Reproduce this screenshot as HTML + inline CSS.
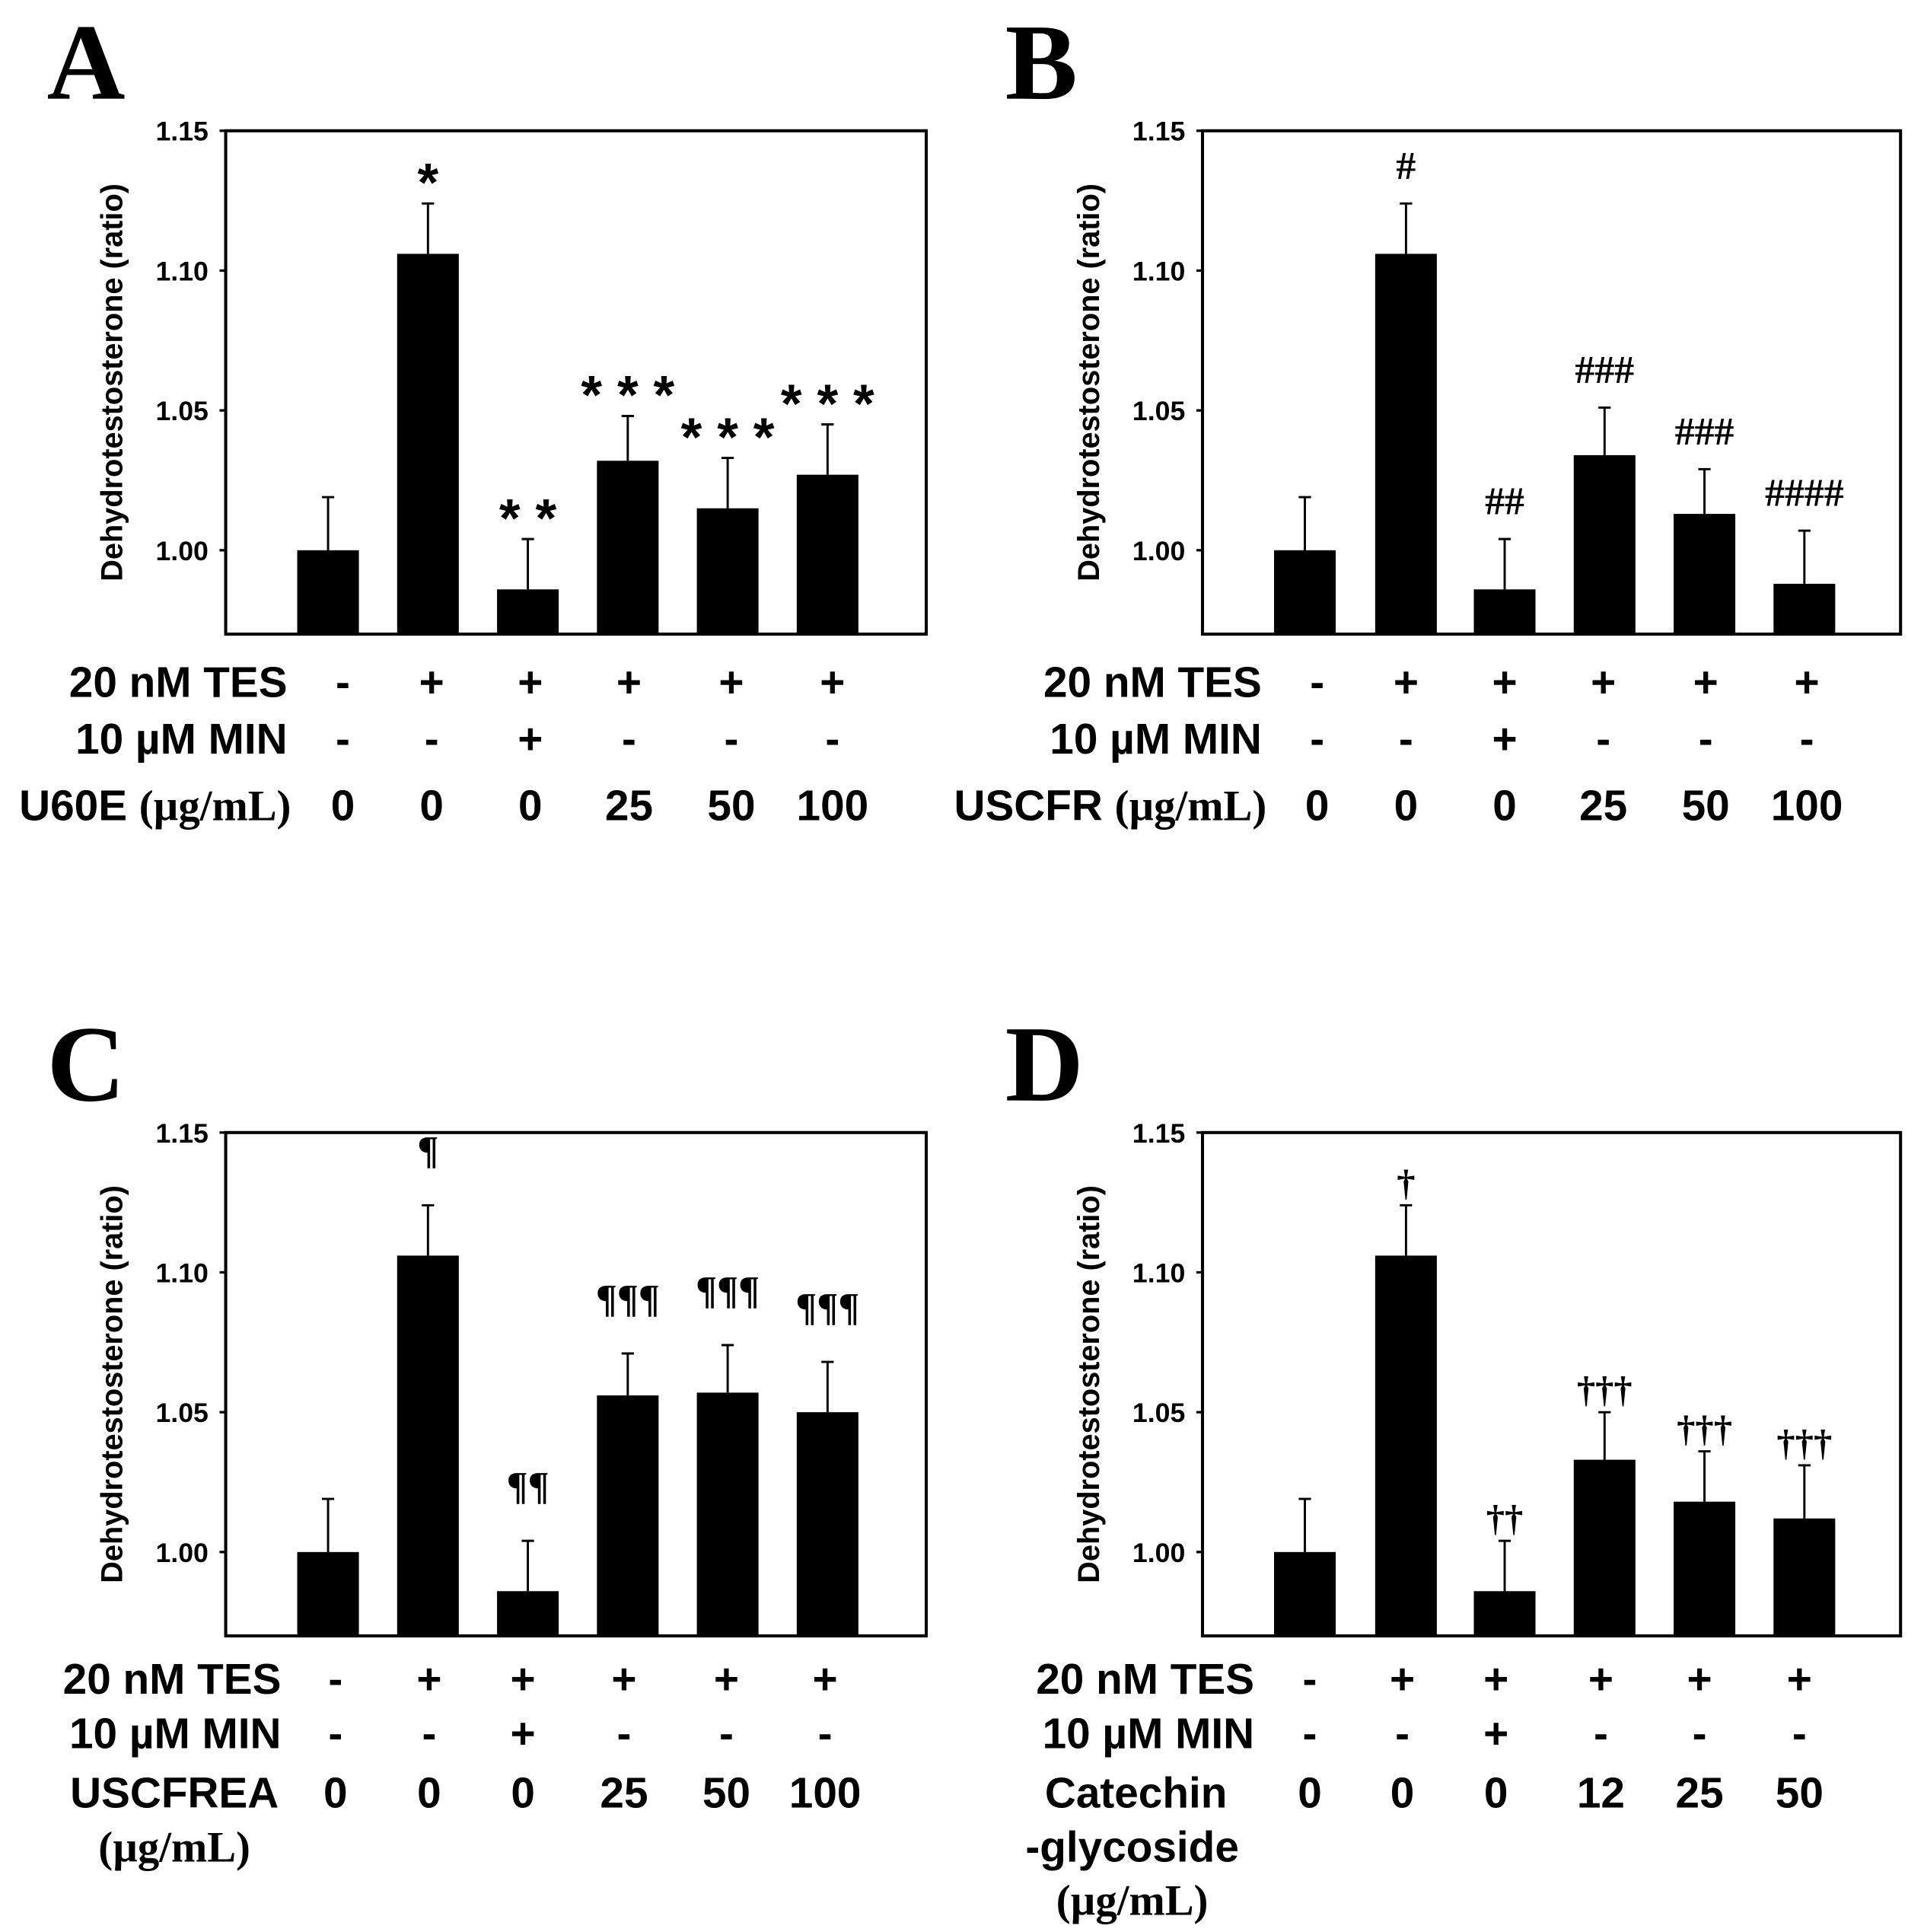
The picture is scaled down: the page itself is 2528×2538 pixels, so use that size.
<!DOCTYPE html>
<html><head><meta charset="utf-8"><style>
html,body{margin:0;padding:0;background:#fff;}
svg{display:block;}
.sans{font-family:"Liberation Sans",sans-serif;font-weight:bold;}
.serif{font-family:"Liberation Serif",serif;font-weight:bold;}
</style></head><body>
<svg id="fig" xmlns="http://www.w3.org/2000/svg" width="2528" height="2538" viewBox="0 0 1560 1566" preserveAspectRatio="none"></svg>
<script>
// ---- data ----
const valsA = [1.000, 1.106, 0.986, 1.032, 1.015, 1.027];
const errA  = [0.019, 0.018, 0.018, 0.016, 0.018, 0.018];
const markA = ["", "*", "* *", "* * *", "* * *", "* * *"];
const valsB = [1.000, 1.106, 0.986, 1.034, 1.013, 0.988];
const errB  = [0.019, 0.018, 0.018, 0.017, 0.016, 0.019];
const markB = ["", "#", "##", "###", "###", "####"];
const valsC = [1.000, 1.106, 0.986, 1.056, 1.057, 1.050];
const errC  = [0.019, 0.018, 0.018, 0.015, 0.017, 0.018];
const markC = ["", "¶", "¶¶", "¶¶¶", "¶¶¶", "¶¶¶"];
const valsD = [1.000, 1.106, 0.986, 1.033, 1.018, 1.012];
const errD  = [0.019, 0.018, 0.018, 0.017, 0.018, 0.019];
const markD = ["", "†", "††", "†††", "†††", "†††"];
const yTicks = [1.00, 1.05, 1.10, 1.15];
const tesRow = ["-", "+", "+", "+", "+", "+"];
const minRow = ["-", "-", "+", "-", "-", "-"];
const doseABC = ["0", "0", "0", "25", "50", "100"];
const doseD = ["0", "0", "0", "12", "25", "50"];

const NS = "http://www.w3.org/2000/svg";
const svg = document.getElementById("fig");
function mk(tag, attrs, parent){
  const e = document.createElementNS(NS, tag);
  for (const k in attrs) e.setAttribute(k, attrs[k]);
  (parent || svg).appendChild(e);
  return e;
}
function txt(s, attrs, parent){ const t = mk("text", attrs, parent); t.textContent = s; return t; }
const FS = 35;

function panel(o){
  const g = mk("g", {});
  
  
  const L=o.left, R=o.right, T=o.top, B=o.bottom;
  const ymin = 0.970, ymax = 1.15;
  const y = v => B - (v - ymin) / (ymax - ymin) * (B - T);
  const L_ = txt(o.id, {x:o.letterX, y:T-26, "font-size":88, class:"serif"}, g);
  
  
  yTicks.forEach(t => {
    const tl = txt(t.toFixed(2), {x:L-14, y:y(t)+8, "font-size":22, "text-anchor":"end", class:"sans"}, g);
    
    
    mk("line", {x1:L-5, x2:L, y1:y(t), y2:y(t), stroke:"#000", "stroke-width":2}, g);
  });
  const yt = txt("Dehydrotestosterone (ratio)", {x:0, y:0, "font-size":24.5, "text-anchor":"middle", class:"sans", transform:`translate(${L-84},${(T+B)/2}) rotate(-90)`}, g);
  
  
  o.vals.forEach((v, i) => {
    const cx = o.bx[i];
    const r = mk("rect", {x:cx-25, y:y(v), width:50, height:B-y(v), fill:"#000"}, g);
    
    
    const et = y(v + o.err[i]);
    const el = mk("path", {d:`M${cx},${y(v)} V${et} M${cx-5},${et} H${cx+5}`, stroke:"#000", "stroke-width":1.8, fill:"none"}, g);
    
    
    if (o.marks[i]) {
      const s = o.marks[i];
      let off, fs, cls;
      if (s.indexOf("*") >= 0) { off = 2; fs = 44; cls = "sans"; }
      else if (s.indexOf("#") >= 0) { off = 20; fs = 32; cls = "serif"; }
      else if (s.indexOf("¶") >= 0) { off = 34; fs = 32; cls = "serif"; }
      else { off = 8; fs = 30; cls = "serif"; }
      const m = txt(s, {x:cx, y: et - off, "font-size": fs, "text-anchor":"middle", class: cls}, g);
      if (cls === "sans") m.setAttribute("font-weight", "normal");
      
      
    }
  });
  const box = mk("rect", {x:L, y:T, width:R-L, height:B-T, fill:"none", stroke:"#000", "stroke-width":2.5}, g);
  
  
  const rows = [["20 nM TES", tesRow, o.rowY[0]], ["10 µM MIN", minRow, o.rowY[1]]];
  rows.forEach(rw => {
    const lb = txt(rw[0], {x:o.labelR, y:rw[2]+12, "font-size":FS, "text-anchor":"end", class:"sans"}, g);
    
    
    rw[1].forEach((s, i) => {
      const c = txt(s, {x:o.cx[i], y:rw[2]+12, "font-size":FS, "text-anchor":"middle", class:"sans"}, g);
      
      
    });
  });
  o.doseLabel(g);
  o.dose.forEach((s, i) => {
    const c = txt(s, {x:o.cx[i], y:o.rowY[2]+12, "font-size":FS, "text-anchor":"middle", class:"sans"}, g);
    
    
  });
}
function doseText(g, x, yy, name, anchor){
  const t = txt("", {x:x, y:yy, "font-size":FS, "text-anchor":anchor||"end"}, g);
  
  
  if (name) { const a = mk("tspan", {class:"sans"}, t); a.textContent = name; }
  const b = mk("tspan", {class:"serif"}, t); b.textContent = "(µg/mL)";
}
const bxL = [266, 347, 428, 509, 590, 671];
const bxR = [1058, 1140, 1220, 1301, 1382, 1463];
panel({id:"A", left:183, right:751, top:106, bottom:514, letterX:38, vals:valsA, err:errA, marks:markA, bx:bxL,
  cx:[278,350,430,510,593,675], rowY:[553,599,653], labelR:233, dose:doseABC,
  doseLabel:g=>doseText(g,236,665,"U60E ")});
panel({id:"B", left:975, right:1541, top:106, bottom:514, letterX:815, vals:valsB, err:errB, marks:markB, bx:bxR,
  cx:[1068,1140,1220,1300,1383,1465], rowY:[553,599,653], labelR:1023, dose:doseABC,
  doseLabel:g=>doseText(g,1027,665,"USCFR ")});
panel({id:"C", left:183, right:751, top:918, bottom:1326, letterX:38, vals:valsC, err:errC, marks:markC, bx:bxL,
  cx:[272,348,424,506,589,669], rowY:[1361,1405,1453], labelR:228, dose:doseABC,
  doseLabel:g=>{
    const t=txt("USCFREA",{x:226,y:1465,"font-size":FS,"text-anchor":"end",class:"sans"},g);
    
    
    doseText(g,203,1509,"");
  }});
panel({id:"D", left:975, right:1541, top:918, bottom:1326, letterX:815, vals:valsD, err:errD, marks:markD, bx:bxR,
  cx:[1062,1137,1213,1298,1378,1459], rowY:[1361,1405,1453], labelR:1017, dose:doseD,
  doseLabel:g=>{
    const t=txt("Catechin",{x:995,y:1465,"font-size":FS,"text-anchor":"end",class:"sans"},g);
    
    
    const t2=txt("-glycoside",{x:918,y:1509,"font-size":FS,"text-anchor":"middle",class:"sans"},g);
    
    
    doseText(g,918,1552,"","middle");
  }});
</script>
</body></html>
